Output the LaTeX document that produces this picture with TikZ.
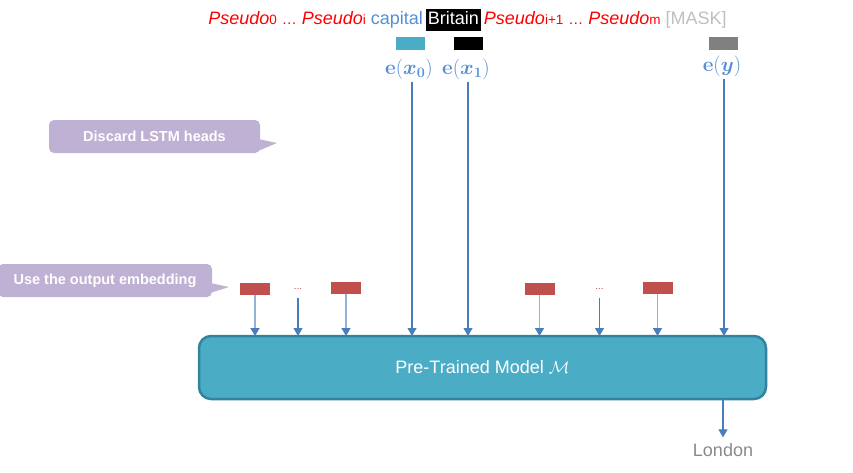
\documentclass[tikz,border=0pt]{standalone}
\usepackage{amsmath,amssymb}
\usepackage[no-math]{fontspec}
\setmainfont{Liberation Sans}
\usepackage{tikz}
\usetikzlibrary{arrows.meta, positioning}

\definecolor{pseudored}{HTML}{FF0000}
\definecolor{tokblue}{HTML}{558ED5}
\definecolor{maskgray}{HTML}{BFBFBF}
\definecolor{modelfill}{HTML}{4BACC6}
\definecolor{modeldraw}{HTML}{31849B}
\definecolor{calloutfill}{HTML}{BFB1D3}
\definecolor{embred}{HTML}{C0504D}
\definecolor{arrowblue}{HTML}{4A7EBB}
\definecolor{arrowlight}{HTML}{95B3D7}
\definecolor{londongray}{HTML}{8A8A8A}

\newcommand{\pseudo}[1]{\textit{Pseudo}{\fontsize{13.5}{13.5}\selectfont #1}}
\newcommand{\sdots}{{\fontsize{15}{15}\selectfont …}}

\begin{document}
\begin{tikzpicture}[
    x=1pt, y=-1pt,
    every node/.style={inner sep=0pt, outer sep=0pt},
    emb/.style={rectangle, minimum width=29pt, minimum height=13pt},
    outemb/.style={rectangle, fill=embred, minimum width=30pt, minimum height=12pt},
    elabel/.style={text=tokblue, font=\fontsize{19.5}{19.5}\selectfont},
    callout/.style={rectangle, fill=calloutfill, rounded corners=5pt, text=white, font=\fontsize{14.5}{14.5}\selectfont\bfseries},
    dots/.style={text=embred, font=\fontsize{10}{10}\selectfont},
    arrow/.style={draw=arrowblue, line width=1.1pt, -{Triangle[length=8pt, width=9pt, color=arrowblue]}},
    outarrow/.style={arrow, draw=arrowlight, line width=1.6pt}
]
\useasboundingbox (0,0) rectangle (853,472);

% Input sentence
\node[anchor=base, font=\fontsize{18}{19}\selectfont] (sentence) at (467.5,24)
  {\textcolor{pseudored}{\pseudo{0} \sdots{} \pseudo{i}} \textcolor{tokblue}{capital}\,{\setlength{\fboxsep}{2pt}\colorbox{black}{\rule[-5pt]{0pt}{17pt}\textcolor{white}{Britain}}}\,\textcolor{pseudored}{\pseudo{i+1} \sdots{} \pseudo{m}} \textcolor{maskgray}{[MASK]}};

% Embeddings
\node[emb, fill=modelfill] (x0box) at (410.5,43.5) {};
\node[emb, fill=black] (x1box) at (468.5,43.5) {};
\node[emb, fill=gray] (ybox) at (723.5,43.5) {};
\node[elabel] (ex0) at (409,69) {$\mathbf{e}(\boldsymbol{x_0})$};
\node[elabel] (ex1) at (466,69) {$\mathbf{e}(\boldsymbol{x_1})$};
\node[elabel] (ey) at (722,66) {$\mathbf{e}(\boldsymbol{y})$};

% Model
\node[rectangle, draw=modeldraw, fill=modelfill, line width=2.5pt, rounded corners=12pt,
      minimum width=567pt, minimum height=63pt, text=white, font=\fontsize{18}{18}\selectfont]
      (model) at (482.5,367.5) {Pre-Trained Model $\mathcal{M}$};
\node[text=londongray, font=\fontsize{18}{18}\selectfont] (london) at (723,450) {London};

% Output embeddings of the pseudo tokens
\node[outemb] (p0) at (255,289) {};
\node[dots] (dotsa) at (298,289) {...};
\node[outemb] (pi) at (346,288) {};
\node[outemb] (pj) at (539.5,289) {};
\node[dots] (dotsb) at (599.5,289) {...};
\node[outemb] (pm) at (657.5,288) {};

% Callouts
\node[callout, minimum width=211pt, minimum height=33pt] (discard) at (154.5,136.5) {Discard LSTM heads};
\fill[calloutfill] (258,139) -- (277,143) -- (258,151) -- cycle;
\node[callout, minimum width=214pt, minimum height=33pt] (useout) at (105,280.5) {Use the output embedding};
\fill[calloutfill] (210,283) -- (229,287) -- (210,293) -- cycle;

% Arrows
\draw[arrow] ([xshift=3pt, yshift=-3pt]ex0.south) -- ([xshift=3pt]ex0.south |- model.north);
\draw[arrow] ([xshift=2pt, yshift=-3pt]ex1.south) -- ([xshift=2pt]ex1.south |- model.north);
\draw[arrow] ([xshift=2pt, yshift=-3pt]ey.south) -- ([xshift=2pt]ey.south |- model.north);
\foreach \p in {p0, pi, pj, pm}
  \draw[outarrow] (\p.south) -- (\p.south |- model.north);
\foreach \d in {dotsa, dotsb}
  \draw[arrow] ([yshift=-8pt]\d.south) -- (\d.south |- model.north);
\draw[arrow, shorten >=6pt] (london.north |- model.south) -- (london.north);

\end{tikzpicture}
\end{document}
